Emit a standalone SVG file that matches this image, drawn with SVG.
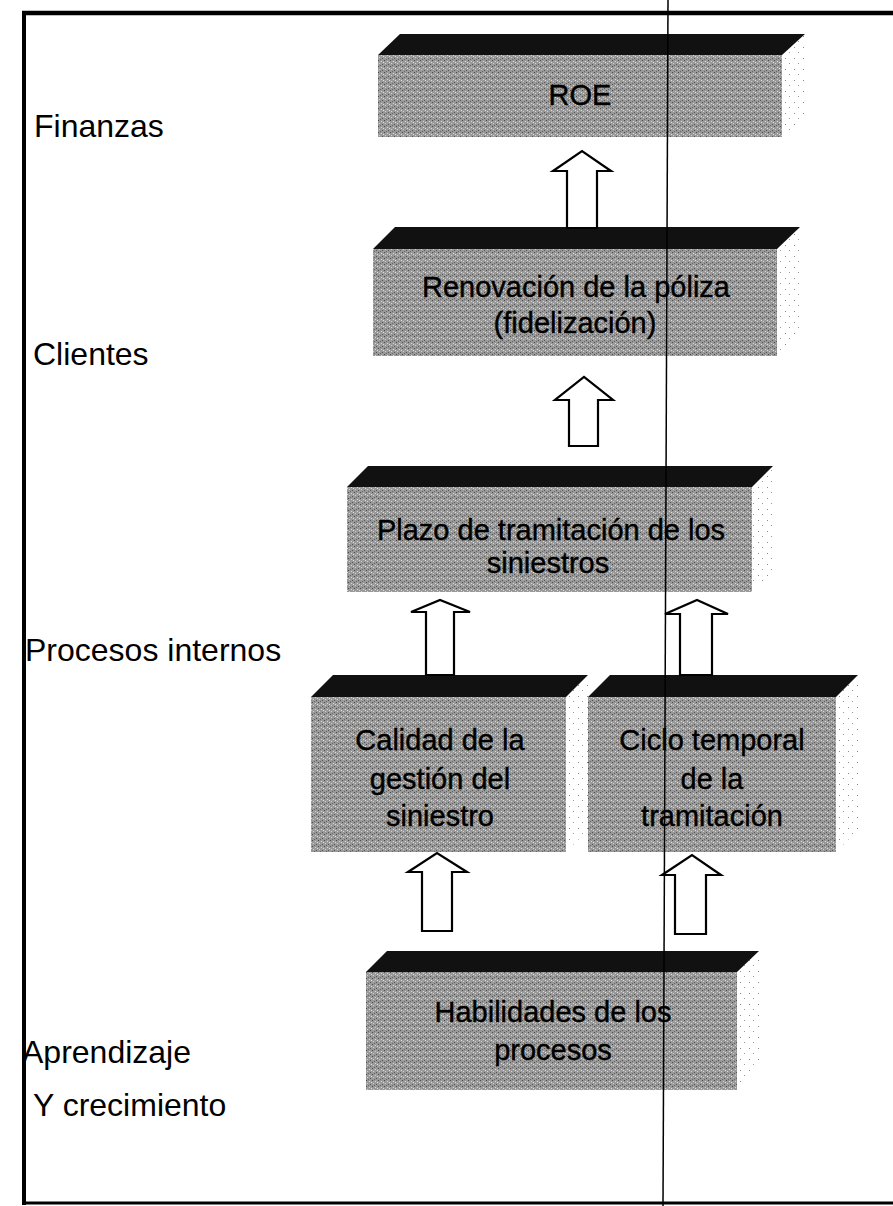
<svg xmlns="http://www.w3.org/2000/svg" width="893" height="1206" viewBox="0 0 893 1206">
<defs>
<pattern id="grain" width="6" height="6" patternUnits="userSpaceOnUse">
<rect width="6" height="6" fill="#999999"/>
<rect x="0" y="0" width="1" height="1" fill="#4a4a4a"/>
<rect x="3" y="1" width="1" height="1" fill="#d8d8d8"/>
<rect x="1" y="3" width="1" height="1" fill="#d0d0d0"/>
<rect x="4" y="4" width="1" height="1" fill="#555555"/>
<rect x="2" y="5" width="1" height="1" fill="#666666"/>
<rect x="5" y="2" width="1" height="1" fill="#e0e0e0"/>
</pattern>
<pattern id="dots" width="9" height="11" patternUnits="userSpaceOnUse">
<rect width="9" height="11" fill="#ffffff"/>
<rect x="2" y="3" width="1" height="1" fill="#888"/>
<rect x="6" y="8" width="1" height="1" fill="#999"/>
</pattern>
</defs>
<style>
.front{fill:url(#grain);}
.top{fill:#111;}
.side{fill:url(#dots);}
.bt{font-family:"Liberation Sans",Arial,sans-serif;font-size:29px;fill:#000;stroke:#000;stroke-width:0.4;text-anchor:middle;}
.lbl{font-family:"Liberation Sans",Arial,sans-serif;font-size:32px;fill:#000;}
.arrow{fill:#fff;stroke:#000;stroke-width:2.2;stroke-linejoin:miter;}
</style>
<rect width="893" height="1206" fill="#fff"/>
<g id="frame" stroke="#000" fill="none">
<line x1="22" y1="13" x2="893" y2="13" stroke-width="4.5"/>
<line x1="24" y1="11" x2="24" y2="1205" stroke-width="4"/>
<line x1="22" y1="1203" x2="893" y2="1203" stroke-width="3"/>
</g>
<g id="labels">
<text class="lbl" x="34" y="137">Finanzas</text>
<text class="lbl" x="33" y="365">Clientes</text>
<text class="lbl" x="25" y="661">Procesos internos</text>
<text class="lbl" x="22" y="1063">Aprendizaje</text>
<text class="lbl" x="33" y="1116">Y crecimiento</text>
</g>
<g id="node-roe">
<polygon class="side" points="782,55 805,34 805,116 782,137"/>
<rect class="front" x="378" y="55" width="404" height="82"/>
<polygon class="top" points="378,55 400,34 805,34 782,55"/>
<text class="bt" x="580" y="105">ROE</text>
</g>
<g id="node-renovacion">
<polygon class="side" points="777,249 800,227 800,334 777,356"/>
<rect class="front" x="373" y="249" width="404" height="107"/>
<polygon class="top" points="373,249 395,227 800,227 777,249"/>
<text class="bt" x="576" y="297">Renovación de la póliza</text>
<text class="bt" x="575" y="333">(fidelización)</text>
</g>
<g id="node-plazo">
<polygon class="side" points="752,487 773,466 773,571 752,592"/>
<rect class="front" x="347" y="487" width="405" height="105"/>
<polygon class="top" points="347,487 368,466 773,466 752,487"/>
<text class="bt" x="551" y="540">Plazo de tramitación de los</text>
<text class="bt" x="548" y="573">siniestros</text>
</g>
<g id="node-calidad">
<polygon class="side" points="566,697 588,675 588,830 566,852"/>
<rect class="front" x="311" y="697" width="255" height="155"/>
<polygon class="top" points="311,697 333,675 588,675 566,697"/>
<text class="bt" x="440" y="750">Calidad de la</text>
<text class="bt" x="440" y="789">gestión del</text>
<text class="bt" x="440" y="826">siniestro</text>
</g>
<g id="node-ciclo">
<polygon class="side" points="836,697 858,675 858,830 836,852"/>
<rect class="front" x="588" y="697" width="248" height="155"/>
<polygon class="top" points="588,697 610,675 858,675 836,697"/>
<text class="bt" x="712" y="750">Ciclo temporal</text>
<text class="bt" x="712" y="789">de la</text>
<text class="bt" x="712" y="826">tramitación</text>
</g>
<g id="node-habilidades">
<polygon class="side" points="737,972 759,951 759,1069 737,1090"/>
<rect class="front" x="366" y="972" width="371" height="118"/>
<polygon class="top" points="366,972 387,951 759,951 737,972"/>
<text class="bt" x="553" y="1022">Habilidades de los</text>
<text class="bt" x="553" y="1060">procesos</text>
</g>
<g id="connectors">
<path class="arrow" d="M567,228 L567,171 L553,171 L582,151 L611,171 L597,171 L597,228 Z"/>
<path class="arrow" d="M569,446 L569,400 L555,400 L584,377 L613,400 L598,400 L598,446 Z"/>
<path class="arrow" d="M426,675 L426,612 L411,612 L440,600 L470,612 L454,612 L454,675 Z"/>
<path class="arrow" d="M680,675 L680,614 L665,614 L697,600 L728,614 L712,614 L712,675 Z"/>
<path class="arrow" d="M422,931 L422,872 L408,872 L437,853 L467,872 L452,872 L452,931 Z"/>
<path class="arrow" d="M675,934 L675,875 L662,875 L692,855 L721,875 L706,875 L706,934 Z"/>
</g>
<line id="guide" x1="668" y1="0" x2="663" y2="1206" stroke="#000" stroke-width="1.5"/>
</svg>
